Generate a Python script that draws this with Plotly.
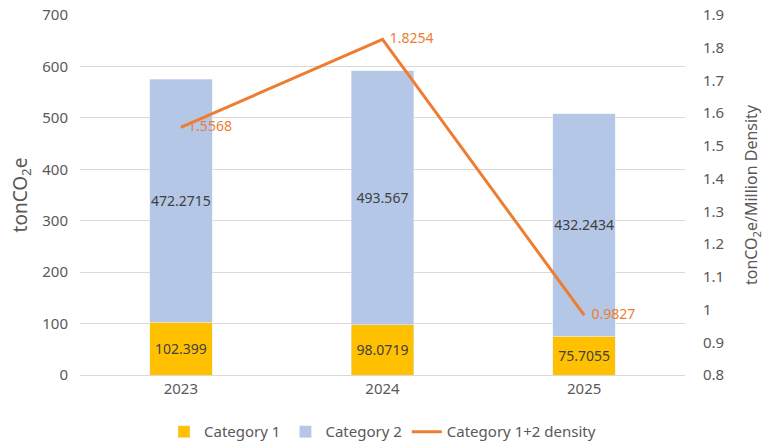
import plotly.graph_objects as go

years = ["2023", "2024", "2025"]
category_1 = [102.399, 98.0719, 75.7055]
category_2 = [472.2715, 493.567, 432.2434]
density = [1.5568, 1.8254, 0.9827]

font_family = "Noto Sans, Open Sans, sans-serif"

fig = go.Figure()

fig.add_trace(go.Bar(
    x=years, y=category_1, name="Category 1",
    marker_color="#FFC000",
    text=[str(v) for v in category_1],
    textposition="inside", insidetextanchor="middle",
    textangle=0, constraintext="none",
    textfont=dict(color="#404040", size=14),
    width=0.31,
))
fig.add_trace(go.Bar(
    x=years, y=category_2, name="Category 2",
    marker_color="#B4C7E7",
    text=[str(v) for v in category_2],
    textposition="inside", insidetextanchor="middle",
    textangle=0, constraintext="none",
    textfont=dict(color="#404040", size=14),
    width=0.31,
))
fig.add_trace(go.Scatter(
    x=years, y=density, name="Category 1+2 density",
    mode="lines+text", yaxis="y2",
    line=dict(color="#ED7D31", width=3),
    text=[str(v) for v in density],
    texttemplate="  %{text}",
    textposition="middle right",
    textfont=dict(color="#ED7D31", size=14),
))

fig.update_layout(
    width=769, height=446,
    barmode="stack",
    plot_bgcolor="white", paper_bgcolor="white",
    font=dict(family=font_family, color="#595959", size=14),
    margin=dict(l=80, r=84, t=15, b=71, autoexpand=False),
    xaxis=dict(
        showline=True, linecolor="#D9D9D9", linewidth=1,
        tickfont=dict(size=15, color="#595959"),
        automargin=False,
    ),
    yaxis=dict(
        range=[0, 700], dtick=100,
        gridcolor="#D9D9D9", zeroline=False,
        title=dict(text="tonCO<sub>2</sub>e", font=dict(size=19, color="#595959"), standoff=9),
        tickfont=dict(size=15, color="#595959"),
        ticks="outside", ticklen=8, tickcolor="white",
        automargin=False,
    ),
    yaxis2=dict(
        range=[0.8, 1.9], dtick=0.1, overlaying="y", side="right",
        showgrid=False, zeroline=False,
        title=dict(text="tonCO<sub>2</sub>e/Million Density", font=dict(size=16, color="#595959"), standoff=22),
        tickfont=dict(size=15, color="#595959"),
        ticks="outside", ticklen=14, tickcolor="white",
        automargin=False,
    ),
    legend=dict(
        orientation="h", traceorder="normal",
        x=0.5, xanchor="center", y=-0.158, yanchor="middle",
        font=dict(size=15, color="#595959"),
    ),
)

# drop the default 8px body margin so the figure fills the window
fig.write_html(
    "out.html",
    config={"displayModeBar": False},
    post_script="document.body.style.margin='0';",
)
